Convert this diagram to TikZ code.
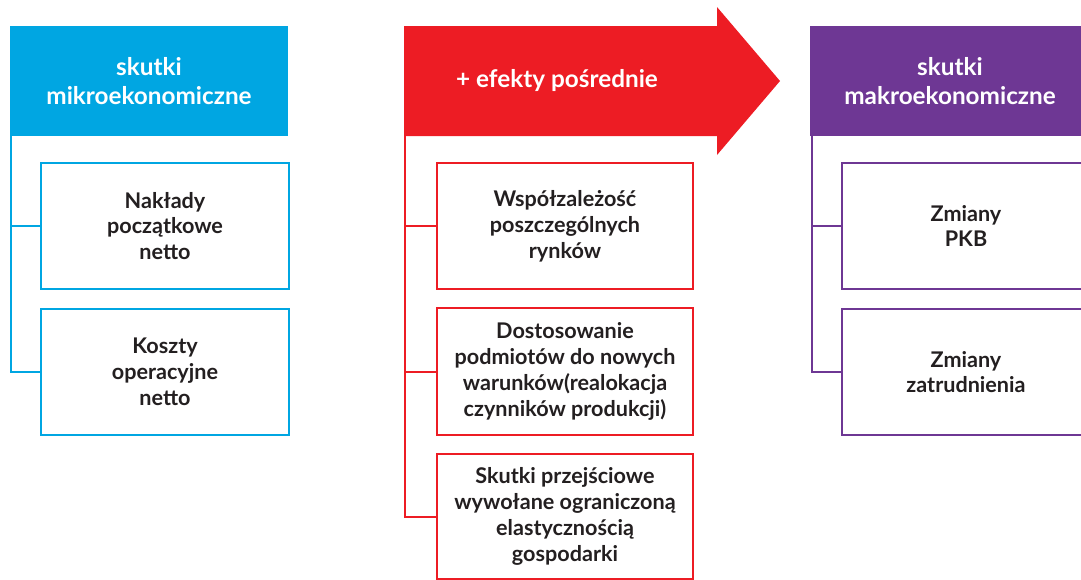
\documentclass[tikz,border=0pt]{standalone}
\usepackage{fontspec}
\setmainfont{Lato}
\definecolor{cblue}{HTML}{00A6E2}
\definecolor{cred}{HTML}{ED1C24}
\definecolor{cpurple}{HTML}{6E3794}
\definecolor{ctext}{HTML}{231F20}
\begin{document}
\begin{tikzpicture}[x=1pt,y=-1pt,
  lbl/.style={font=\fontsize{21.6}{25.8}\selectfont\bfseries, align=center, inner sep=0pt},
  hdr/.style={lbl, font=\fontsize{24.3}{28.5}\selectfont\bfseries, text=white, anchor=center},
  itembox/.style={lbl, text=ctext, line width=2pt, fill=white, anchor=north west},
  conn/.style={line width=2pt}]
\useasboundingbox (0,0) rectangle (1081,579);
\clip (0,0) rectangle (1081,579);
% ---- blue column
\fill[cblue] (10,26) rectangle (288,136);
\node[hdr] (hb) at (149,81) {skutki\\mikroekonomiczne};
\coordinate (bl) at (11,136);
\node[itembox, draw=cblue, minimum width=248pt, minimum height=126pt] (b1) at (40,162) {Nakłady\\początkowe\\netto};
\node[itembox, draw=cblue, minimum width=248pt, minimum height=126pt] (b2) at (40,308) {Koszty\\operacyjne\\netto};
\draw[conn, cblue] (bl) |- (b1.west);
\draw[conn, cblue] (bl) |- (b2.west);
% ---- red column
\fill[cred] (404,26) -- (717,26) -- (717,7) -- (780,81) -- (717,155) -- (717,136) -- (404,136) -- cycle;
\node[hdr] (hr) at (557,81) {+ efekty pośrednie};
\coordinate (rl) at (405,136);
\node[itembox, draw=cred, minimum width=256pt, minimum height=126pt] (r1) at (436,162) {Współzależość\\poszczególnych\\rynków};
\node[itembox, draw=cred, minimum width=256pt, minimum height=127pt] (r2) at (436,307) {Dostosowanie\\podmiotów do nowych\\warunków(realokacja\\czynników produkcji)};
\node[itembox, draw=cred, minimum width=256pt, minimum height=125pt] (r3) at (436,453) {Skutki przejściowe\\wywołane ograniczoną\\elastycznością\\gospodarki};
\draw[conn, cred] (rl) |- (r1.west);
\draw[conn, cred] (rl) |- (r2.west);
\draw[conn, cred] (rl) |- (r3.west);
% ---- purple column
\fill[cpurple] (810,26) rectangle (1095,136);
\node[hdr] (hp) at (950,81) {skutki\\makroekonomiczne};
\coordinate (pl) at (812,136);
\node[itembox, draw=cpurple, minimum width=248pt, minimum height=126pt] (p1) at (841,162) {Zmiany\\PKB};
\node[itembox, draw=cpurple, minimum width=248pt, minimum height=126pt] (p2) at (841,308) {Zmiany\\zatrudnienia};
\draw[conn, cpurple] (pl) |- (p1.west);
\draw[conn, cpurple] (pl) |- (p2.west);
\end{tikzpicture}
\end{document}
